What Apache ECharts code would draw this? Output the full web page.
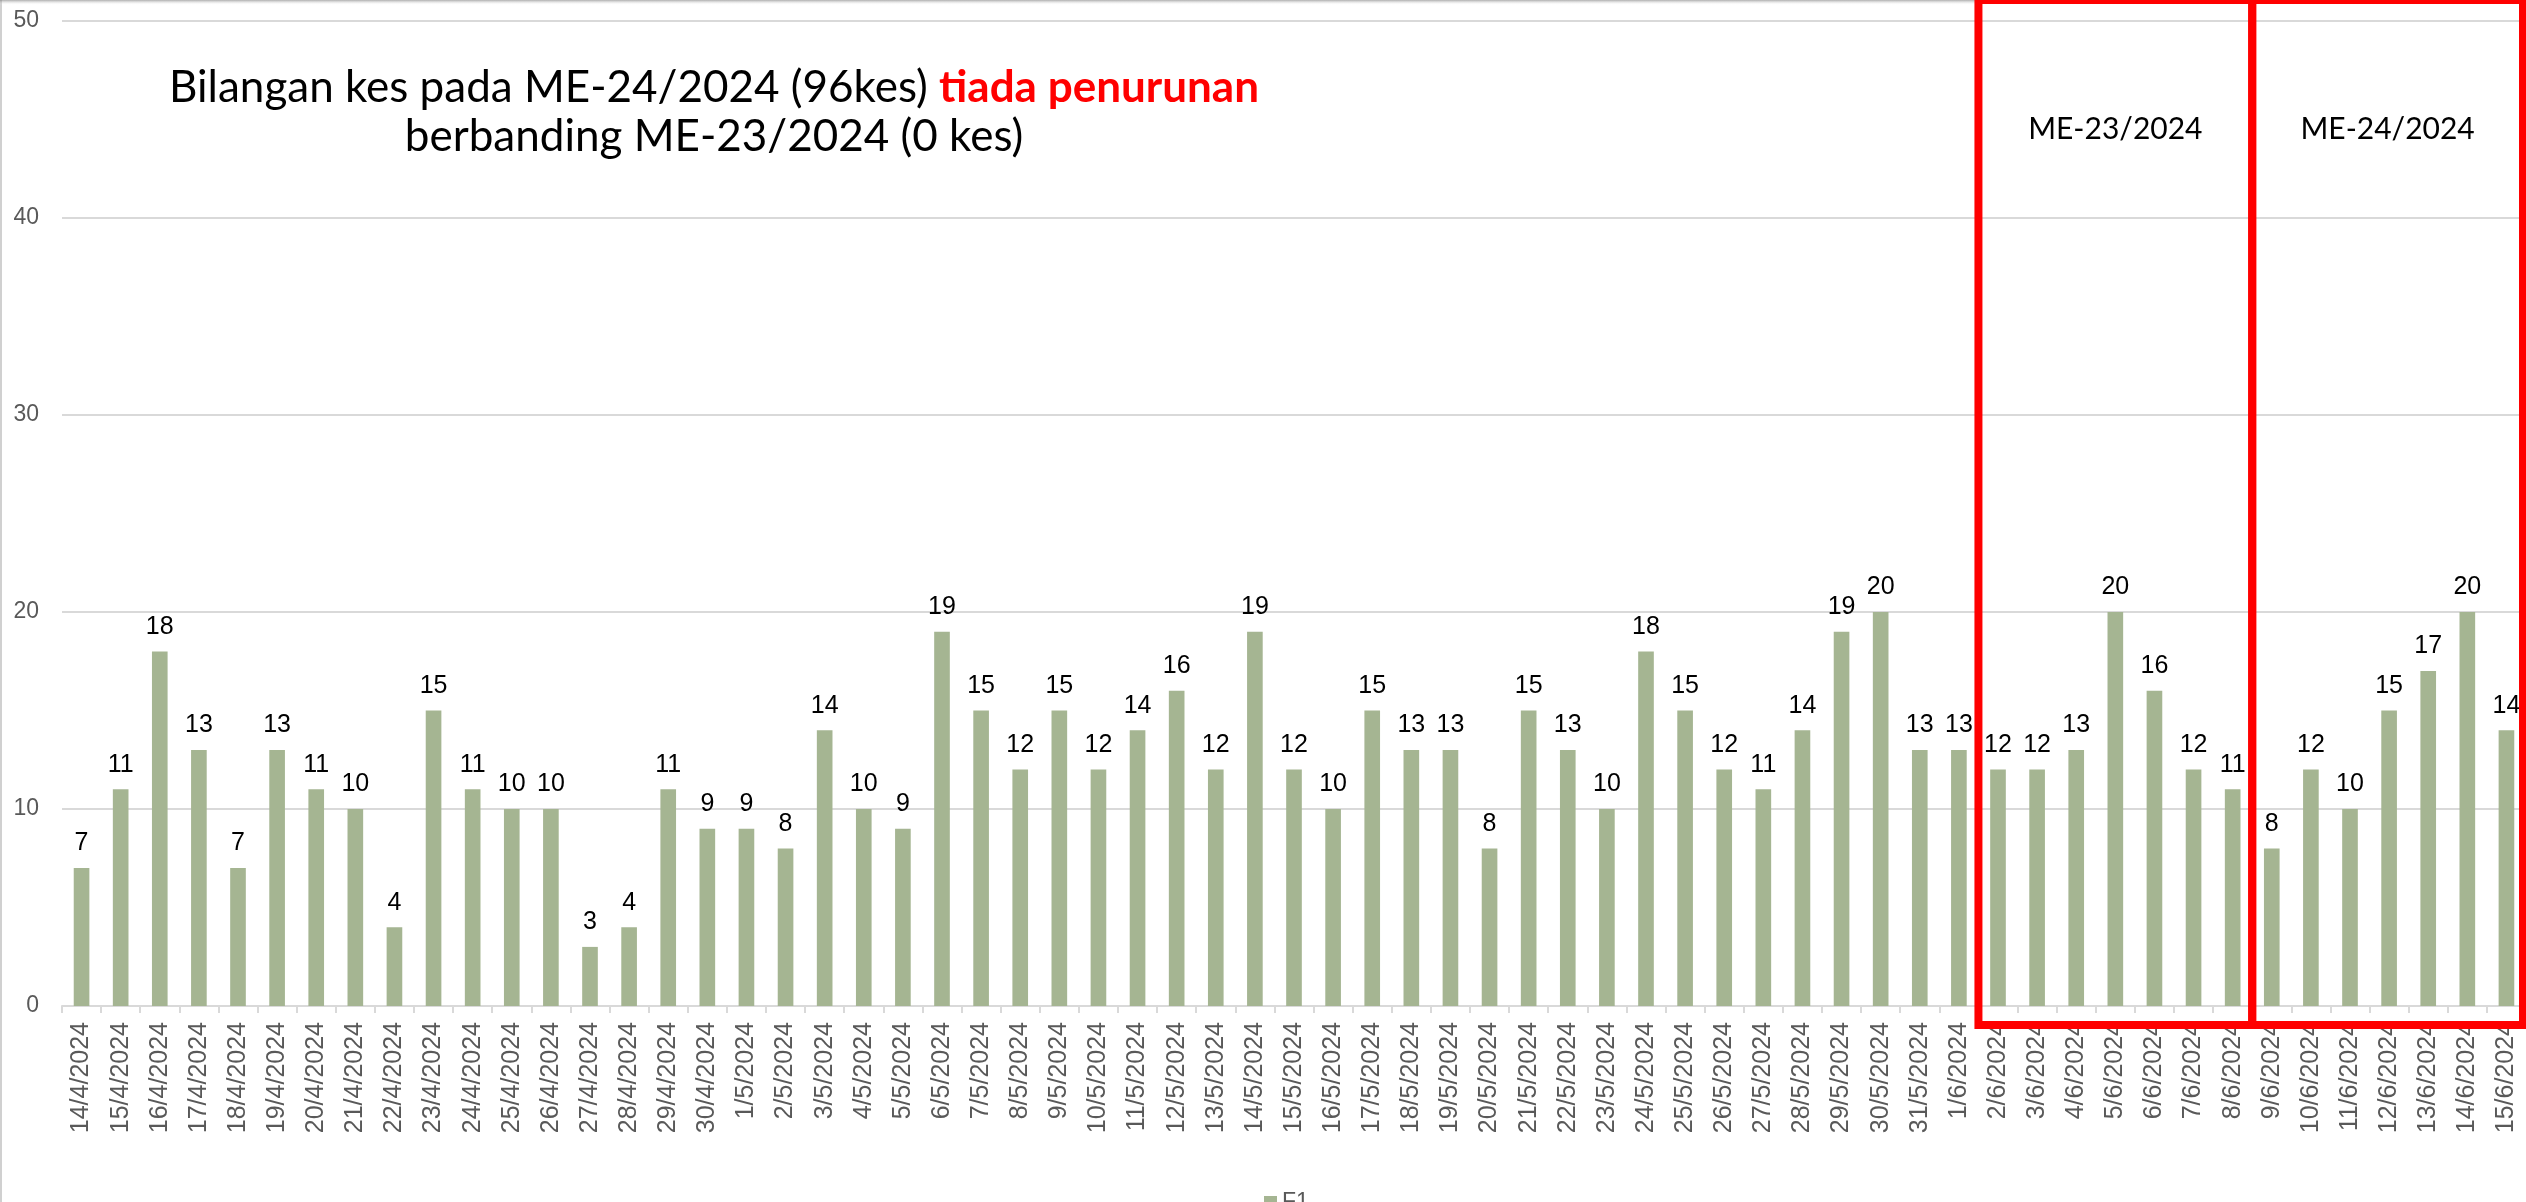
<!DOCTYPE html>
<html>
<head>
<meta charset="utf-8">
<script src="https://cdn.jsdelivr.net/npm/echarts@6/dist/echarts.min.js"></script>
<style>
  html, body { margin: 0; padding: 0; background: #fff; }
  #chart { width: 2526px; height: 1202px; }
</style>
</head>
<body>
<div id="chart"></div>
<script>
// tarikh (kategori)
const datesApr = ['14/4/2024','15/4/2024','16/4/2024','17/4/2024','18/4/2024','19/4/2024','20/4/2024','21/4/2024','22/4/2024','23/4/2024','24/4/2024','25/4/2024','26/4/2024','27/4/2024','28/4/2024','29/4/2024','30/4/2024']
const datesMay = ['1/5/2024','2/5/2024','3/5/2024','4/5/2024','5/5/2024','6/5/2024','7/5/2024','8/5/2024','9/5/2024','10/5/2024','11/5/2024','12/5/2024','13/5/2024','14/5/2024','15/5/2024','16/5/2024','17/5/2024','18/5/2024','19/5/2024','20/5/2024','21/5/2024','22/5/2024','23/5/2024','24/5/2024','25/5/2024','26/5/2024','27/5/2024','28/5/2024','29/5/2024','30/5/2024','31/5/2024']
const datesJun = ['1/6/2024','2/6/2024','3/6/2024','4/6/2024','5/6/2024','6/6/2024','7/6/2024','8/6/2024','9/6/2024','10/6/2024','11/6/2024','12/6/2024','13/6/2024','14/6/2024','15/6/2024']

// bilangan kes F1
const casesApr = [7,11,18,13,7,13,11,10,4,15,11,10,10,3,4,11,9]
const casesMay = [9,8,14,10,9,19,15,12,15,12,14,16,12,19,12,10,15,13,13,8,15,13,10,18,15,12,11,14,19,20,13]
const casesJun = [13,12,12,13,20,16,12,11,8,12,10,15,17,20,14]

// minggu epidemiologi
const weekNames = ['ME-23/2024', 'ME-24/2024']
const weekRanges = [['2/6/2024', '8/6/2024'], ['9/6/2024', '15/6/2024']]

const yTicks = { min: 0, max: 50, interval: 10 }

const dates = datesApr.concat(datesMay, datesJun)
const cases = casesApr.concat(casesMay, casesJun)

var chart = echarts.init(document.getElementById('chart'))

var option = {
    animation: false,
    backgroundColor: '#ffffff',
    title: {
        left: 709,
        top: 58,
        textAlign: 'center',
        text: 'Bilangan kes pada ME-24/2024 (96kes) {r|tiada penurunan}\nberbanding ME-23/2024 (0 kes)',
        textStyle: {
            fontFamily: 'Lato',
            fontSize: 44,
            fontWeight: 'normal',
            color: '#000',
            lineHeight: 49,
            rich: {
                r: { fontFamily: 'Lato', fontSize: 44, fontWeight: 'bold', color: '#ff0000', lineHeight: 49 }
            }
        }
    },
    legend: {
        left: 1259,
        top: 1186,
        icon: 'rect',
        itemWidth: 13,
        itemHeight: 13,
        itemGap: 10,
        textStyle: { fontSize: 23, color: '#595959', fontFamily: 'Liberation Sans' },
        data: ['F1']
    },
    grid: { left: 62, right: 0, top: 21, bottom: 196, containLabel: false },
    xAxis: {
        type: 'category',
        data: dates,
        axisLine: { lineStyle: { color: '#d9d9d9', width: 2 } },
        axisTick: { show: true, length: 7, lineStyle: { color: '#d9d9d9', width: 2 } },
        axisLabel: {
            interval: 0,
            rotate: 90,
            margin: 16,
            fontSize: 25,
            color: '#595959',
            fontFamily: 'Liberation Sans'
        },
        splitLine: { show: false }
    },
    yAxis: {
        type: 'value',
        min: yTicks.min,
        max: yTicks.max,
        interval: yTicks.interval,
        axisLine: { show: false },
        axisTick: { show: false },
        axisLabel: { fontSize: 23, color: '#595959', margin: 23, fontFamily: 'Liberation Sans' },
        splitLine: { lineStyle: { color: '#d9d9d9', width: 2 } }
    },
    series: [
        {
            name: 'F1',
            type: 'bar',
            data: cases,
            barWidth: '40%',
            itemStyle: { color: '#a5b592' },
            label: {
                show: true,
                position: 'top',
                distance: 12,
                fontSize: 25,
                color: '#000',
                fontFamily: 'Liberation Sans'
            }
        }
    ]
}

chart.setOption(option)

// kotak merah untuk ME-23 dan ME-24
const band = chart.convertToPixel({ xAxisIndex: 0 }, dates[1]) - chart.convertToPixel({ xAxisIndex: 0 }, dates[0])
const yZero = chart.convertToPixel({ yAxisIndex: 0 }, 0)
const graphics = [
    { type: 'line', shape: { x1: 1, y1: 0, x2: 1, y2: 1202 }, style: { stroke: '#d0d0d0', lineWidth: 2 }, silent: true },
    {
        type: 'rect', shape: { x: 0, y: 0, width: 2526, height: 5 }, silent: true,
        style: { fill: new echarts.graphic.LinearGradient(0, 0, 0, 1, [{ offset: 0, color: 'rgba(120,120,120,0.6)' }, { offset: 1, color: 'rgba(255,255,255,0)' }]) }
    }
]
weekRanges.forEach((range, i) => {
    let x1 = chart.convertToPixel({ xAxisIndex: 0 }, range[0]) - band / 2
    let x2 = chart.convertToPixel({ xAxisIndex: 0 }, range[1]) + band / 2
    if (x2 > 2523) x2 = 2523
    graphics.push({
        type: 'rect',
        z: 100,
        shape: { x: x1, y: 0, width: x2 - x1, height: yZero + 19 },
        style: { fill: 'none', stroke: '#ff0000', lineWidth: 8 },
        silent: true
    })
    graphics.push({
        type: 'text',
        z: 100,
        x: (x1 + x2) / 2,
        y: 129,
        style: {
            text: weekNames[i],
            align: 'center',
            verticalAlign: 'middle',
            fontFamily: 'Lato',
            fontSize: 30,
            fill: '#000'
        },
        silent: true
    })
})
chart.setOption({ graphic: graphics })
</script>
</body>
</html>
